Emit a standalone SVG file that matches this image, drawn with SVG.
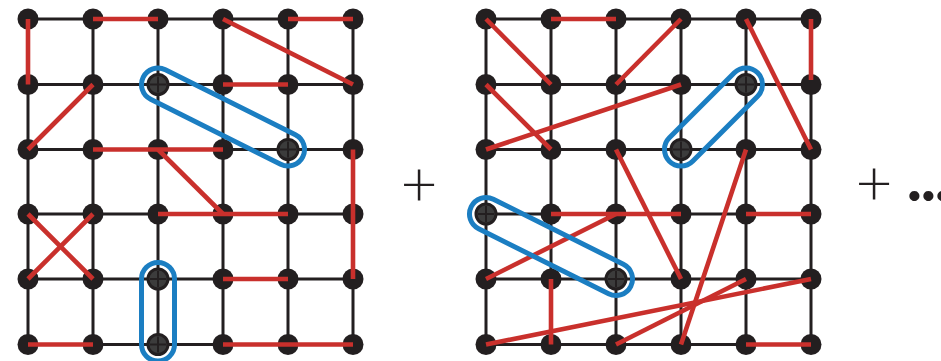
<svg xmlns="http://www.w3.org/2000/svg" xmlns:xlink="http://www.w3.org/1999/xlink" width="941" height="361" viewBox="0 0 941 361">
  <style>
    .grid line { stroke: #231f20; stroke-width: 3; }
    .bond { stroke: #c9302c; stroke-width: 4.6; stroke-linecap: butt; }
    .loop { fill: none; stroke: #1b7ec2; stroke-width: 5; }
    .site { fill: #231f20; }
    .sym { font-family: Lato, "Open Sans", "Liberation Sans", sans-serif; fill: #231f20; }
  </style>
  <defs>
    <!-- plain lattice site -->
    <circle id="n" r="10.5" class="site"/>
    <!-- marked site: ring with a cross -->
    <g id="p">
      <circle r="10" fill="#3c3c3c" stroke="#231f20" stroke-width="3"/>
      <line x1="-8" y1="0" x2="8" y2="0" stroke="#231f20" stroke-width="2"/>
      <line x1="0" y1="-8" x2="0" y2="8" stroke="#231f20" stroke-width="2"/>
    </g>
  </defs>

  <!-- lattice lines, left panel -->
  <g class="grid">
    <line x1="28" y1="19" x2="353" y2="19"/>
    <line x1="28" y1="84.5" x2="353" y2="84.5"/>
    <line x1="28" y1="149.5" x2="353" y2="149.5"/>
    <line x1="28" y1="214" x2="353" y2="214"/>
    <line x1="28" y1="279" x2="353" y2="279"/>
    <line x1="28" y1="344.5" x2="353" y2="344.5"/>
    <line x1="28" y1="19" x2="28" y2="344.5"/>
    <line x1="93" y1="19" x2="93" y2="344.5"/>
    <line x1="158" y1="19" x2="158" y2="344.5"/>
    <line x1="223" y1="19" x2="223" y2="344.5"/>
    <line x1="288" y1="19" x2="288" y2="344.5"/>
    <line x1="353" y1="19" x2="353" y2="344.5"/>
  </g>
  <!-- lattice lines, right panel -->
  <g class="grid">
    <line x1="486" y1="19" x2="811" y2="19"/>
    <line x1="486" y1="84.5" x2="811" y2="84.5"/>
    <line x1="486" y1="149.5" x2="811" y2="149.5"/>
    <line x1="486" y1="214" x2="811" y2="214"/>
    <line x1="486" y1="279" x2="811" y2="279"/>
    <line x1="486" y1="344.5" x2="811" y2="344.5"/>
    <line x1="486" y1="19" x2="486" y2="344.5"/>
    <line x1="551" y1="19" x2="551" y2="344.5"/>
    <line x1="616" y1="19" x2="616" y2="344.5"/>
    <line x1="681" y1="19" x2="681" y2="344.5"/>
    <line x1="746" y1="19" x2="746" y2="344.5"/>
    <line x1="811" y1="19" x2="811" y2="344.5"/>
  </g>

  <!-- sites, left panel -->
  <g id="left-sites">
    <g id="L00"><use xlink:href="#n" x="28" y="19"/></g>
    <g id="L10"><use xlink:href="#n" x="93" y="19"/></g>
    <g id="L20"><use xlink:href="#n" x="158" y="19"/></g>
    <g id="L30"><use xlink:href="#n" x="223" y="19"/></g>
    <g id="L40"><use xlink:href="#n" x="288" y="19"/></g>
    <g id="L50"><use xlink:href="#n" x="353" y="19"/></g>
    <g id="L01"><use xlink:href="#n" x="28" y="84.5"/></g>
    <g id="L11"><use xlink:href="#n" x="93" y="84.5"/></g>
    <g id="L21"><use xlink:href="#p" x="158" y="84.5"/></g>
    <g id="L31"><use xlink:href="#n" x="223" y="84.5"/></g>
    <g id="L41"><use xlink:href="#n" x="288" y="84.5"/></g>
    <g id="L51"><use xlink:href="#n" x="353" y="84.5"/></g>
    <g id="L02"><use xlink:href="#n" x="28" y="149.5"/></g>
    <g id="L12"><use xlink:href="#n" x="93" y="149.5"/></g>
    <g id="L22"><use xlink:href="#n" x="158" y="149.5"/></g>
    <g id="L32"><use xlink:href="#n" x="223" y="149.5"/></g>
    <g id="L42"><use xlink:href="#p" x="288" y="149.5"/></g>
    <g id="L52"><use xlink:href="#n" x="353" y="149.5"/></g>
    <g id="L03"><use xlink:href="#n" x="28" y="214"/></g>
    <g id="L13"><use xlink:href="#n" x="93" y="214"/></g>
    <g id="L23"><use xlink:href="#n" x="158" y="214"/></g>
    <g id="L33"><use xlink:href="#n" x="223" y="214"/></g>
    <g id="L43"><use xlink:href="#n" x="288" y="214"/></g>
    <g id="L53"><use xlink:href="#n" x="353" y="214"/></g>
    <g id="L04"><use xlink:href="#n" x="28" y="279"/></g>
    <g id="L14"><use xlink:href="#n" x="93" y="279"/></g>
    <g id="L24"><use xlink:href="#p" x="158" y="279"/></g>
    <g id="L34"><use xlink:href="#n" x="223" y="279"/></g>
    <g id="L44"><use xlink:href="#n" x="288" y="279"/></g>
    <g id="L54"><use xlink:href="#n" x="353" y="279"/></g>
    <g id="L05"><use xlink:href="#n" x="28" y="344.5"/></g>
    <g id="L15"><use xlink:href="#n" x="93" y="344.5"/></g>
    <g id="L25"><use xlink:href="#p" x="158" y="344.5"/></g>
    <g id="L35"><use xlink:href="#n" x="223" y="344.5"/></g>
    <g id="L45"><use xlink:href="#n" x="288" y="344.5"/></g>
    <g id="L55"><use xlink:href="#n" x="353" y="344.5"/></g>
  </g>

  <!-- sites, right panel -->
  <g id="right-sites">
    <g id="R00"><use xlink:href="#n" x="486" y="19"/></g>
    <g id="R10"><use xlink:href="#n" x="551" y="19"/></g>
    <g id="R20"><use xlink:href="#n" x="616" y="19"/></g>
    <g id="R30"><use xlink:href="#n" x="681" y="19"/></g>
    <g id="R40"><use xlink:href="#n" x="746" y="19"/></g>
    <g id="R50"><use xlink:href="#n" x="811" y="19"/></g>
    <g id="R01"><use xlink:href="#n" x="486" y="84.5"/></g>
    <g id="R11"><use xlink:href="#n" x="551" y="84.5"/></g>
    <g id="R21"><use xlink:href="#n" x="616" y="84.5"/></g>
    <g id="R31"><use xlink:href="#n" x="681" y="84.5"/></g>
    <g id="R41"><use xlink:href="#p" x="746" y="84.5"/></g>
    <g id="R51"><use xlink:href="#n" x="811" y="84.5"/></g>
    <g id="R02"><use xlink:href="#n" x="486" y="149.5"/></g>
    <g id="R12"><use xlink:href="#n" x="551" y="149.5"/></g>
    <g id="R22"><use xlink:href="#n" x="616" y="149.5"/></g>
    <g id="R32"><use xlink:href="#p" x="681" y="149.5"/></g>
    <g id="R42"><use xlink:href="#n" x="746" y="149.5"/></g>
    <g id="R52"><use xlink:href="#n" x="811" y="149.5"/></g>
    <g id="R03"><use xlink:href="#p" x="486" y="214"/></g>
    <g id="R13"><use xlink:href="#n" x="551" y="214"/></g>
    <g id="R23"><use xlink:href="#n" x="616" y="214"/></g>
    <g id="R33"><use xlink:href="#n" x="681" y="214"/></g>
    <g id="R43"><use xlink:href="#n" x="746" y="214"/></g>
    <g id="R53"><use xlink:href="#n" x="811" y="214"/></g>
    <g id="R04"><use xlink:href="#n" x="486" y="279"/></g>
    <g id="R14"><use xlink:href="#n" x="551" y="279"/></g>
    <g id="R24"><use xlink:href="#p" x="616" y="279"/></g>
    <g id="R34"><use xlink:href="#n" x="681" y="279"/></g>
    <g id="R44"><use xlink:href="#n" x="746" y="279"/></g>
    <g id="R54"><use xlink:href="#n" x="811" y="279"/></g>
    <g id="R05"><use xlink:href="#n" x="486" y="344.5"/></g>
    <g id="R15"><use xlink:href="#n" x="551" y="344.5"/></g>
    <g id="R25"><use xlink:href="#n" x="616" y="344.5"/></g>
    <g id="R35"><use xlink:href="#n" x="681" y="344.5"/></g>
    <g id="R45"><use xlink:href="#n" x="746" y="344.5"/></g>
    <g id="R55"><use xlink:href="#n" x="811" y="344.5"/></g>
  </g>

  <!-- connectors: red bonds and blue loops -->
  <g id="connectors">
    <g id="bonds-left" class="bond">
      <line x1="28" y1="19" x2="28" y2="84.5"/>
      <line x1="93" y1="19" x2="158" y2="19"/>
      <line x1="223" y1="19" x2="353" y2="84.5"/>
      <line x1="288" y1="19" x2="353" y2="19"/>
      <line x1="223" y1="84.5" x2="288" y2="84.5"/>
      <line x1="93" y1="84.5" x2="28" y2="149.5"/>
      <line x1="93" y1="149.5" x2="223" y2="149.5"/>
      <line x1="158" y1="149.5" x2="223" y2="214"/>
      <line x1="353" y1="149.5" x2="353" y2="279"/>
      <line x1="28" y1="214" x2="93" y2="279"/>
      <line x1="93" y1="214" x2="28" y2="279"/>
      <line x1="158" y1="214" x2="288" y2="214"/>
      <line x1="223" y1="279" x2="288" y2="279"/>
      <line x1="28" y1="344.5" x2="93" y2="344.5"/>
      <line x1="223" y1="344.5" x2="353" y2="344.5"/>
    </g>
    <g id="bonds-right" class="bond">
      <line x1="486" y1="19" x2="551" y2="84.5"/>
      <line x1="551" y1="19" x2="616" y2="19"/>
      <line x1="681" y1="19" x2="616" y2="84.5"/>
      <line x1="746" y1="19" x2="811" y2="149.5"/>
      <line x1="811" y1="19" x2="811" y2="80"/>
      <line x1="486" y1="84.5" x2="551" y2="149.5"/>
      <line x1="681" y1="84.5" x2="486" y2="149.5"/>
      <line x1="616" y1="149.5" x2="681" y2="279"/>
      <line x1="746" y1="149.5" x2="681" y2="344.5"/>
      <line x1="551" y1="214" x2="681" y2="214"/>
      <line x1="746" y1="214" x2="811" y2="214"/>
      <line x1="616" y1="214" x2="486" y2="279"/>
      <line x1="551" y1="279" x2="551" y2="344.5"/>
      <line x1="746" y1="279" x2="616" y2="344.5"/>
      <line x1="811" y1="279" x2="486" y2="344.5"/>
      <line x1="746" y1="344.5" x2="811" y2="344.5"/>
    </g>
    <g id="loops" class="loop">
      <rect x="-89.17" y="-16.5" width="178.34" height="33" rx="16.5" transform="translate(223 117) rotate(26.565)"/>
      <rect x="141.5" y="262.5" width="33" height="98.5" rx="16.5"/>
      <rect x="-62.46" y="-16.5" width="124.92" height="33" rx="16.5" transform="translate(713.5 117) rotate(-45)"/>
      <rect x="-89.17" y="-16.5" width="178.34" height="33" rx="16.5" transform="translate(551 246.5) rotate(26.565)"/>
    </g>
  </g>

  <!-- sum signs -->
  <text class="sym" x="419" y="206" font-size="64" font-weight="300" text-anchor="middle">+</text>
  <text class="sym" x="874" y="205" font-size="64" font-weight="300" text-anchor="middle">+</text>
  <text class="sym" x="907" y="201" font-size="62" font-weight="900" letter-spacing="-0.8">...</text>
</svg>
